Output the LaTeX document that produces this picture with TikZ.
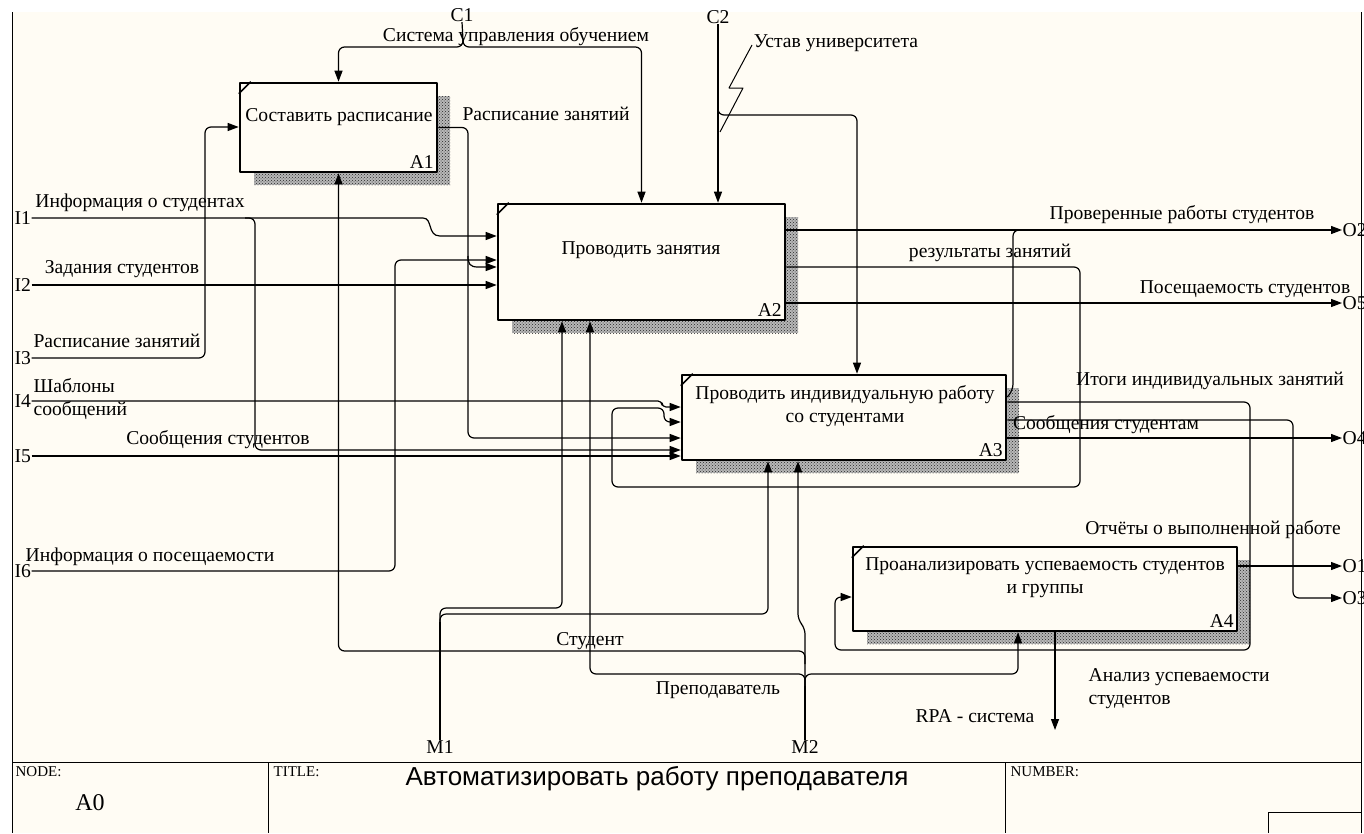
\documentclass[tikz,border=0pt]{standalone}
\usepackage{fontspec}
\setmainfont{Liberation Serif}
\setsansfont{Liberation Sans}
\usetikzlibrary{arrows.meta,patterns}
\definecolor{bg}{HTML}{FFFCF4}
\begin{document}
\begin{tikzpicture}[x=1pt,y=-1pt,line width=1.2pt,line join=round,
 lbl/.style={font=\fontsize{19.6}{23}\selectfont,inner sep=0pt},
 idefbox/.style={draw,line width=2.6pt,fill=bg,inner sep=0pt},
 shadbase/.style={fill=black!28},
 shad/.style={pattern=crosshatch dots,pattern color=black!85},
 arr/.style={-{Triangle[length=11pt,width=8pt]}},
 rc/.style={rounded corners=6pt},
 frm/.style={line width=0.9pt},
 smalltxt/.style={font=\fontsize{15}{17}\selectfont,inner sep=0pt}]
\useasboundingbox (0,0) rectangle (1364,833);
\fill[white] (0,0) rectangle (1364,833);
\fill[bg] (12,12) rectangle (1361,833);
\draw[frm] (12,12) -- (12,833);
\draw[frm] (1361,12) -- (1361,833);
% title bar
\draw[frm] (12,762) -- (1361,762);
\draw[frm] (268,762) -- (268,833);
\draw[frm] (1005,762) -- (1005,833);
\draw[frm] (1268,833) -- (1268,812) -- (1361,812);
\node[smalltxt,anchor=north west] (nodel) at (15,766) {NODE:};
\node[font=\fontsize{24}{26}\selectfont,inner sep=0pt] (nodev) at (90,803) {A0};
\node[smalltxt,anchor=north west] (titlel) at (273,766) {TITLE:};
\node[font=\sffamily\fontsize{26}{28}\selectfont,inner sep=0pt] (title) at (657,779) {Автоматизировать работу преподавателя};
\node[smalltxt,anchor=north west] (numl) at (1010,766) {NUMBER:};

% shadows
\foreach \r in {{(254,96) rectangle (450,185)},{(512,217) rectangle (798,333)},{(696,388) rectangle (1019,473)},{(867,560) rectangle (1250,644)}}{
  \fill[shadbase] \r;
  \fill[shad] \r;
}
% boxes
\node[idefbox,minimum width=197pt,minimum height=89pt] (A1) at (338.5,127.5) {};
\node[idefbox,minimum width=287pt,minimum height=116pt] (A2) at (641.5,262) {};
\node[idefbox,minimum width=324pt,minimum height=85pt] (A3) at (844,417.5) {};
\node[idefbox,minimum width=384pt,minimum height=84pt] (A4) at (1045,589) {};
\foreach \b in {A1,A2,A3,A4}{
  \draw[line width=1.6pt] ([yshift=-12pt]\b.north west) -- ([xshift=12pt]\b.north west);
}
% box texts
\node[lbl] (t1) at (339,117) {Составить расписание};
\node[lbl,anchor=south east] (n1) at ([xshift=-4pt,yshift=4pt]A1.south east) {A1};
\node[lbl] (t2) at (641,250) {Проводить занятия};
\node[lbl,anchor=south east] (n2) at ([xshift=-4pt,yshift=4pt]A2.south east) {A2};
\node[lbl,align=center] (t3) at (845,406) {Проводить индивидуальную работу\\со студентами};
\node[lbl,anchor=south east] (n3) at ([xshift=-4pt,yshift=4pt]A3.south east) {A3};
\node[lbl,align=center] (t4) at (1045,578) {Проанализировать успеваемость студентов\\и группы};
\node[lbl,anchor=south east] (n4) at ([xshift=-4pt,yshift=4pt]A4.south east) {A4};

% tags
\node[lbl,anchor=west] (I1) at (14,218) {I1};
\node[lbl,anchor=west] (I2) at (14,285) {I2};
\node[lbl,anchor=west] (I3) at (14,358) {I3};
\node[lbl,anchor=west] (I4) at (14,401) {I4};
\node[lbl,anchor=west] (I5) at (14,456) {I5};
\node[lbl,anchor=west] (I6) at (14,571) {I6};
\node[lbl,anchor=west] (O2) at (1342,230) {O2};
\node[lbl,anchor=west] (O5) at (1342,303) {O5};
\node[lbl,anchor=west] (O4) at (1342,438) {O4};
\node[lbl,anchor=west] (O1) at (1342,566) {O1};
\node[lbl,anchor=west] (O3) at (1342,598) {O3};
\node[lbl] (C1) at (462,15) {C1};
\node[lbl] (C2) at (718,17) {C2};
\node[lbl] (M1) at (440,747) {M1};
\node[lbl] (M2) at (805,747) {M2};

% controls
\coordinate (c1j) at (463,40);
\draw (C1.south) -- (c1j);
\draw[arr,rc] (c1j) |- (420,47) -| (A1.north);
\draw[arr,rc] (c1j) |- (520,47) -| (A2.north);
\draw[arr] (C2.south) -- (A2.north -| 718,0);
\draw[arr,rc] (718,105) |- (740,115) -- (857,115) -- (A3.north -| 857,0);
\draw[line width=1pt] (752,45) -- (729,88) -- (743,88) -- (720,132);

% inputs
\draw[arr] (I1.east) -- (423,218) .. controls (433,218) and (427,236) .. (440,236) -- (A2.west |- 0,236);
\draw[arr,rc] (245,218) -| (255,450) -- (A3.west |- 0,450);
\draw[arr] (I2.east) -- (A2.west |- 0,285);
\draw[arr,rc] (I3.east) -| (205,127) -- (A1.west |- 0,127);
\draw[arr,rounded corners=4pt] (I4.east) -- (662,401) |- (A3.west |- 0,407);
\draw[arr] (I5.east) -- (A3.west |- 0,456);
\draw[arr,rc] (I6.east) -| (395,260) -- (A2.west |- 0,260);

% A1 output
\draw[arr,rc] (A1.east) -| (468,438) -- (A3.west |- 0,438);
\draw[arr] (468,256) .. controls (468,264) and (470,267) .. (478,267) -- (A2.west |- 0,267);

% A2 outputs
\draw[arr] (A2.east |- 0,230) -- (O2.west);
\draw[arr] (A2.east |- 0,303) -- (O5.west);
\draw[arr,rc] (A2.east |- 0,267) -| (1080,487) -| (612,408) -- (664,408) |- (A3.west |- 0,422);

% A3 outputs
\draw[rc] (A3.east |- 0,397) -- (1013,390) -- (1013,230) -- (1026,230);
\draw[arr,rc] (A3.east |- 0,402) -| (1250,650) -| (835,597) -- (A4.west |- 0,597);
\draw[arr,rc] (A3.east |- 0,420) -| (1293,598) -- (O3.west);
\draw[arr] (A3.east |- 0,438) -- (O4.west);

% A4 outputs
\draw[arr] (A4.east |- 0,566) -- (O1.west);
\coordinate (rpa) at (1055,730);
\draw[arr] (A4.south -| 1055,0) -- (rpa);

% mechanisms
\coordinate (m1j) at (440,622);
\draw (M1.north) -- (m1j);
\draw[arr,rc] (m1j) |- (600,614) -| (A3.south -| 768,0);
\draw[arr,rc] (m1j) |- (500,608) -| (A2.south -| 562,0);
\coordinate (m2a) at (805,686);
\draw (M2.north) -- (m2a);
\draw[arr,rc] (m2a) |- (700,674) -| (A2.south -| 590,0);
\draw[arr,rc] (m2a) |- (900,674) -| (A4.south -| 1018,0);
\draw[arr,rc] (805,664) |- (600,651) -| (A1.south);
\draw[arr,rc] (m2a) -- (805,628) -- (798,620) -- (A3.south -| 798,0);

% arrow labels
\node[lbl] (l1) at (516,37) {Система управления обучением};
\node[lbl] (l2) at (836,43) {Устав университета};
\node[lbl] (l3) at (546,114) {Расписание занятий};
\node[lbl] (l4) at (140,203) {Информация о студентах};
\node[lbl] (l5) at (122,269) {Задания студентов};
\node[lbl] (l6) at (117,341) {Расписание занятий};
\node[lbl,anchor=west] (l7) at (33,386) {Шаблоны};
\node[lbl,anchor=west] (l8) at (33,411) {сообщений};
\node[lbl] (l9) at (218,440) {Сообщения студентов};
\node[lbl] (l10) at (150,557) {Информация о посещаемости};
\node[lbl] (l11) at (1182,215) {Проверенные работы студентов};
\node[lbl] (l12) at (990,253) {результаты занятий};
\node[lbl] (l13) at (1245,289) {Посещаемость студентов};
\node[lbl] (l14) at (1210,381) {Итоги индивидуальных занятий};
\node[lbl] (l15) at (1106,425) {Сообщения студентам};
\node[lbl] (l16) at (1213,530) {Отчёты о выполненной работе};
\node[lbl,anchor=west] (l17) at (1088,677) {Анализ успеваемости};
\node[lbl,anchor=west] (l18) at (1088,702) {студентов};
\node[lbl] (l19) at (975,716) {RPA - система};
\node[lbl] (l20) at (590,641) {Студент};
\node[lbl] (l21) at (718,690) {Преподаватель};
\end{tikzpicture}
\end{document}
